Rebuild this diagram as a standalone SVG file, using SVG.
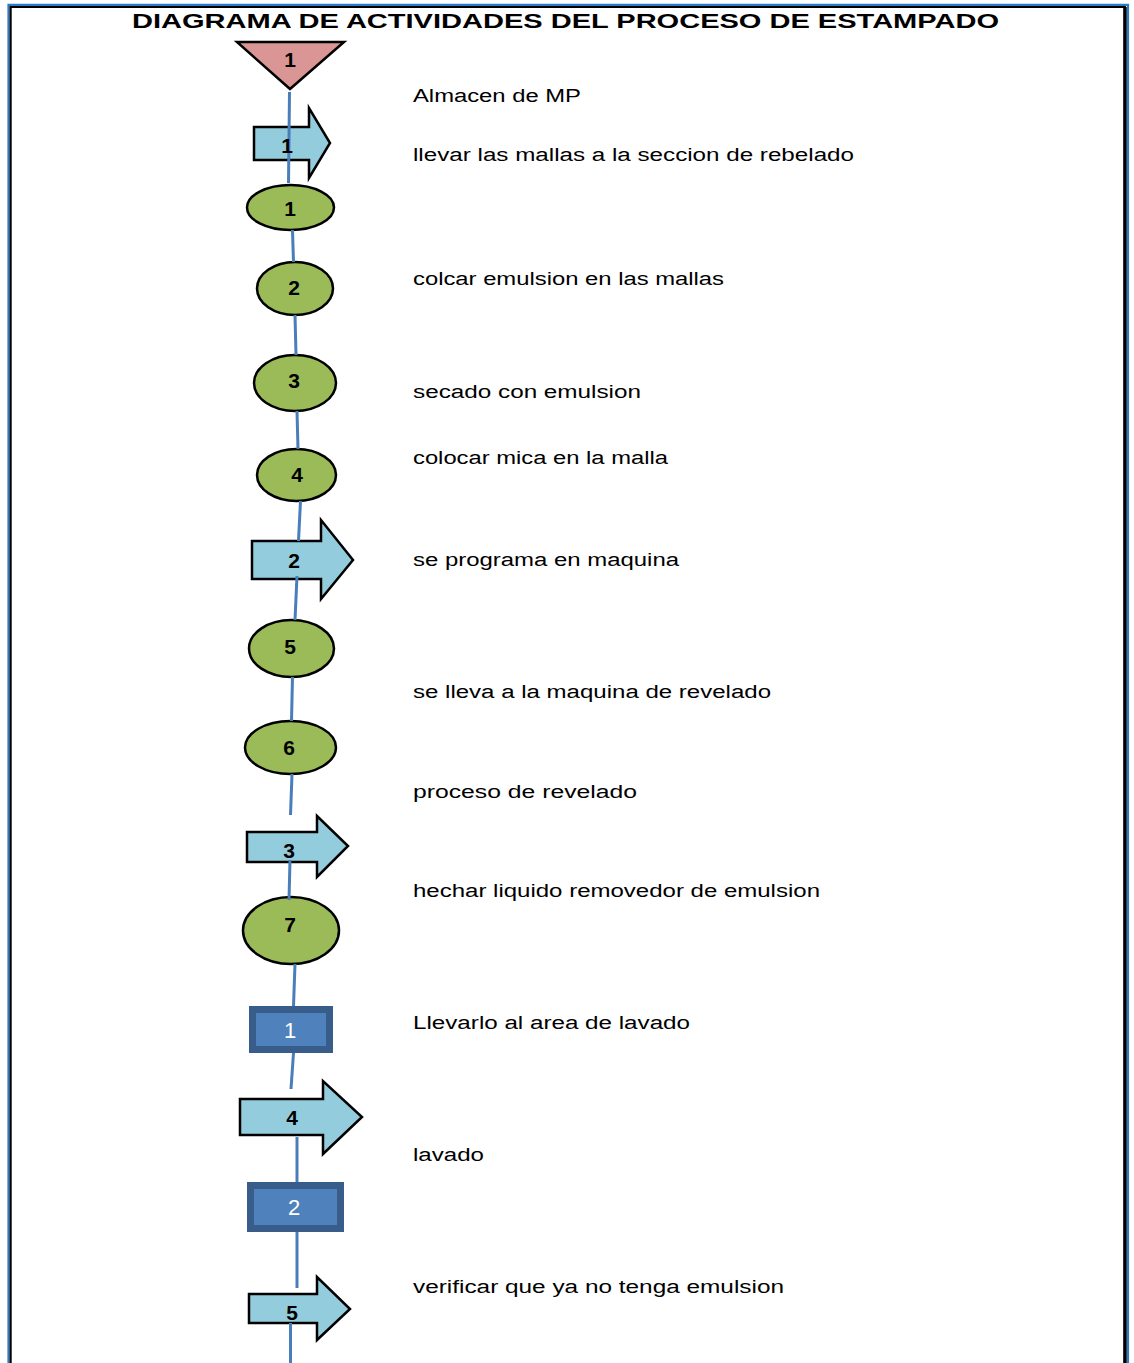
<svg xmlns="http://www.w3.org/2000/svg" width="1134" height="1363" viewBox="0 0 1134 1363">
  <style>
    .op { fill: #9bbb59; stroke: #000; stroke-width: 2.5; }
    .tr { fill: #93cddd; stroke: #000; stroke-width: 2.5; stroke-linejoin: miter; }
    .st { fill: #d99694; stroke: #000; stroke-width: 2.5; }
    .box { fill: #4f81bd; stroke: #385d8a; stroke-width: 7; }
    .num { font-family: "Liberation Sans", Arial, sans-serif; font-size: 21px; font-weight: bold; fill: #000; text-anchor: middle; }
    .numw { font-family: "Liberation Sans", Arial, sans-serif; font-size: 22px; fill: #fff; text-anchor: middle; }
    .lbl { font-family: "Liberation Sans", Arial, sans-serif; font-size: 18px; fill: #000; }
    .ttl { font-family: "Liberation Sans", Arial, sans-serif; font-size: 20px; font-weight: bold; fill: #000; }
    .ln { stroke: #4a7ebb; stroke-width: 3; fill: none; }
  </style>

  <!-- page frame -->
  <rect x="0" y="0" width="1134" height="1363" fill="#fff"/>
  <path d="M8.5,1363 V4.8 H1128 V1363" fill="none" stroke="#2b7bc7" stroke-width="2.2"/>
  <path d="M10.6,1363 V7 H1124.8 V1363" fill="none" stroke="#000" stroke-width="2.2"/>
  <line x1="1125" y1="7" x2="1125" y2="1363" stroke="#000" stroke-width="3.5"/>

  <text class="ttl" x="132" y="27.5" textLength="867" lengthAdjust="spacingAndGlyphs">DIAGRAMA DE ACTIVIDADES DEL PROCESO DE ESTAMPADO</text>

  <!-- nodes -->
  <g id="store-1"><polygon class="st" points="237,42 344,42 290,89"/></g>
  <g id="move-1"><polygon class="tr" points="254,127 309,127 309,108 330,143 309,178 309,160 254,160"/></g>
  <g id="op-1"><ellipse class="op" cx="290.5" cy="207.5" rx="43.5" ry="22.5"/></g>
  <g id="op-2"><ellipse class="op" cx="295" cy="288.5" rx="38" ry="26.5"/></g>
  <g id="op-3"><ellipse class="op" cx="295" cy="383" rx="41" ry="28"/></g>
  <g id="op-4"><ellipse class="op" cx="296.5" cy="475" rx="39.5" ry="26"/></g>
  <g id="move-2"><polygon class="tr" points="252,541 321,541 321,520 353,560 321,599 321,579 252,579"/></g>
  <g id="op-5"><ellipse class="op" cx="291.5" cy="648.5" rx="42.5" ry="28.5"/></g>
  <g id="op-6"><ellipse class="op" cx="290.5" cy="747.5" rx="45.5" ry="26.5"/></g>
  <g id="move-3"><polygon class="tr" points="247,832 317,832 317,816 348,846 317,877 317,862 247,862"/></g>
  <g id="op-7"><ellipse class="op" cx="291" cy="930.5" rx="48" ry="33.5"/></g>
  <g id="insp-1"><rect class="box" x="252.5" y="1009.5" width="77" height="40"/></g>
  <g id="move-4"><polygon class="tr" points="240,1099 323,1099 323,1081 362,1117 323,1154 323,1135 240,1135"/></g>
  <g id="insp-2"><rect class="box" x="250.5" y="1185.5" width="90" height="43"/></g>
  <g id="move-5"><polygon class="tr" points="249,1294 317,1294 317,1277 350,1309 317,1340 317,1323 249,1323"/></g>

  <!-- connectors -->
  <g id="connectors">
    <line class="ln" x1="289.5" y1="92" x2="288.5" y2="183"/>
    <line class="ln" x1="292.5" y1="230" x2="293.5" y2="262"/>
    <line class="ln" x1="295" y1="315" x2="296" y2="355"/>
    <line class="ln" x1="297" y1="411" x2="298" y2="449"/>
    <line class="ln" x1="300.5" y1="501" x2="298.5" y2="541"/>
    <line class="ln" x1="297" y1="576" x2="295" y2="620"/>
    <line class="ln" x1="292.5" y1="677" x2="291.5" y2="721"/>
    <line class="ln" x1="292" y1="774" x2="290.5" y2="815"/>
    <line class="ln" x1="290" y1="860" x2="289" y2="900"/>
    <line class="ln" x1="295" y1="964" x2="293.5" y2="1006"/>
    <line class="ln" x1="293.5" y1="1053" x2="291" y2="1089"/>
    <line class="ln" x1="297" y1="1137" x2="297" y2="1182"/>
    <line class="ln" x1="297" y1="1232" x2="297" y2="1288"/>
    <line class="ln" x1="290.5" y1="1323" x2="290.5" y2="1363"/>
  </g>

  <!-- node numbers -->
  <g id="numbers">
    <text class="num" x="290" y="66.5">1</text>
    <text class="num" x="287" y="152.5">1</text>
    <text class="num" x="290" y="215.5">1</text>
    <text class="num" x="294" y="294.5">2</text>
    <text class="num" x="294" y="387.5">3</text>
    <text class="num" x="297" y="481.5">4</text>
    <text class="num" x="294" y="567.5">2</text>
    <text class="num" x="290" y="653.5">5</text>
    <text class="num" x="289" y="754.5">6</text>
    <text class="num" x="289" y="857.5">3</text>
    <text class="num" x="290" y="931.5">7</text>
    <text class="numw" x="290" y="1038">1</text>
    <text class="num" x="292" y="1124.5">4</text>
    <text class="numw" x="294" y="1215">2</text>
    <text class="num" x="292" y="1319.5">5</text>
  </g>

  <!-- activity descriptions -->
  <g id="labels">
    <text class="lbl" x="413" y="102" textLength="168" lengthAdjust="spacingAndGlyphs">Almacen de MP</text>
    <text class="lbl" x="413" y="161" textLength="441" lengthAdjust="spacingAndGlyphs">llevar las mallas a la seccion de rebelado</text>
    <text class="lbl" x="413" y="285" textLength="311" lengthAdjust="spacingAndGlyphs">colcar emulsion en las mallas</text>
    <text class="lbl" x="413" y="398" textLength="228" lengthAdjust="spacingAndGlyphs">secado con emulsion</text>
    <text class="lbl" x="413" y="464" textLength="255" lengthAdjust="spacingAndGlyphs">colocar mica en la malla</text>
    <text class="lbl" x="413" y="566" textLength="266" lengthAdjust="spacingAndGlyphs">se programa en maquina</text>
    <text class="lbl" x="413" y="698" textLength="358" lengthAdjust="spacingAndGlyphs">se lleva a la maquina de revelado</text>
    <text class="lbl" x="413" y="798" textLength="224" lengthAdjust="spacingAndGlyphs">proceso de revelado</text>
    <text class="lbl" x="413" y="897" textLength="407" lengthAdjust="spacingAndGlyphs">hechar liquido removedor de emulsion</text>
    <text class="lbl" x="413" y="1029" textLength="277" lengthAdjust="spacingAndGlyphs">Llevarlo al area de lavado</text>
    <text class="lbl" x="413" y="1161" textLength="71" lengthAdjust="spacingAndGlyphs">lavado</text>
    <text class="lbl" x="413" y="1293" textLength="371" lengthAdjust="spacingAndGlyphs">verificar que ya no tenga emulsion</text>
  </g>
</svg>
